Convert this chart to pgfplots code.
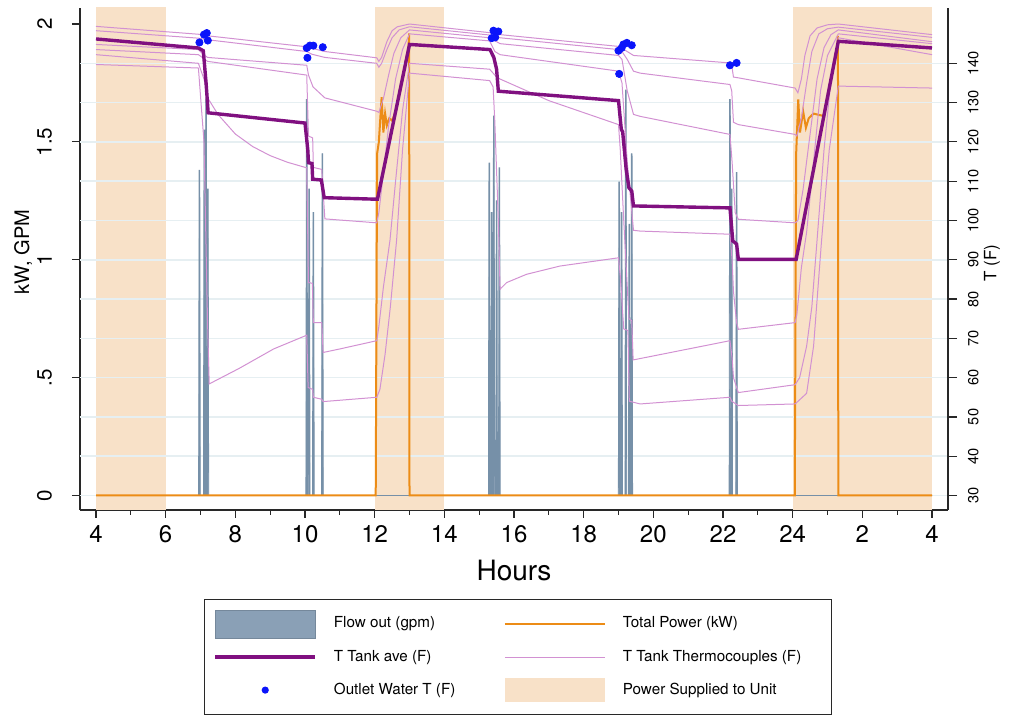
\documentclass[border=0pt]{standalone}
\usepackage{fontspec}
\setmainfont{TeX Gyre Heros}
\usepackage{pgfplots}
\pgfplotsset{compat=1.18}

\definecolor{peach}{RGB}{248,225,200}
\definecolor{flowc}{RGB}{118,144,168}
\definecolor{flowleg}{RGB}{138,160,182}
\definecolor{powc}{RGB}{236,140,22}
\definecolor{avec}{RGB}{128,16,128}
\definecolor{tcc}{RGB}{210,145,210}
\definecolor{dotc}{RGB}{10,20,250}
\definecolor{gridc}{RGB}{230,239,242}
\definecolor{axc}{RGB}{40,40,40}

\pgfplotsset{
  base/.style={width=434pt,height=251pt,scale only axis,
    xmin=3.5407,xmax=28.4593,at={(0,0)},anchor=south west},
  kw/.style={ymin=-0.0615,ymax=2.068},
  degf/.style={ymin=26.31,ymax=154.08},
  tc/.style={tcc,line width=0.5pt,forget plot},
}

\begin{document}
\begin{tikzpicture}
% left scale: shading, x axis, kW/GPM axis
\begin{axis}[base,kw,
  axis x line*=bottom, axis y line*=left,
  axis line style={axc,line width=0.6pt,-},
  tick style={axc,line width=0.6pt},
  tick align=outside, major tick length=4pt, minor tick length=2.5pt,
  xtick={4,6,...,28}, xticklabels={4,6,8,10,12,14,16,18,20,22,24,2,4},
  minor x tick num=1,
  ytick={0,0.5,1,1.5,2}, yticklabels={0,.5,1,1.5,2},
  /pgf/number format/assume math mode=true,
  x tick label style={font=\fontsize{12}{12}\selectfont},
  y tick label style={font=\fontsize{10.3}{10.3}\selectfont,rotate=90,anchor=south},
  yticklabel shift=6.5pt,
  xlabel={Hours}, ylabel={kW, GPM},
  every axis x label/.style={at={(axis description cs:0.5,-0.1215)},anchor=center,font=\fontsize{14}{14}\selectfont},
  every axis y label/.style={at={(axis description cs:-0.0655,0.514)},anchor=center,rotate=90,font=\fontsize{10}{10}\selectfont},
]
\addplot[fill=peach,draw=none,forget plot] coordinates {(4,-1)(4,3)(6,3)(6,-1)} -- cycle;
\addplot[fill=peach,draw=none,forget plot] coordinates {(12,-1)(12,3)(14,3)(14,-1)} -- cycle;
\addplot[fill=peach,draw=none,forget plot] coordinates {(24,-1)(24,3)(28,3)(28,-1)} -- cycle;
\end{axis}

% right scale: temperature axis and grid
\begin{axis}[base,degf,
  axis y line*=right, hide x axis,
  axis line style={axc,line width=0.6pt,-},
  tick style={axc,line width=0.6pt},
  tick align=outside, major tick length=4.5pt,
  ytick={30,40,...,140},
  ymajorgrids, grid style={gridc,line width=0.8pt},
  /pgf/number format/assume math mode=true,
  y tick label style={font=\fontsize{7.3}{7.3}\selectfont,rotate=90,anchor=north},
  yticklabel shift=2pt,
  ylabel={T (F)},
  every axis y label/.style={at={(axis description cs:1.0507,0.492)},anchor=center,rotate=90,font=\fontsize{8.5}{8.5}\selectfont},
]
\end{axis}

% flow and power (kW, GPM)
\begin{axis}[base,kw,hide axis]
\addplot[fill=flowc,draw=flowc,line width=0.4pt,forget plot] coordinates {
(4,0)
(6.945,0)(6.96,1.38)(6.98,1.38)(6.995,0)
(7.085,0)(7.10,1.55)(7.12,1.55)(7.135,0)
(7.135,0)(7.15,1.68)(7.17,1.68)(7.185,0)
(7.185,0)(7.20,1.30)(7.22,1.30)(7.235,0)
(10.025,0)(10.04,1.68)(10.06,1.68)(10.075,0)
(10.095,0)(10.11,1.30)(10.13,1.30)(10.145,0)
(10.215,0)(10.23,1.20)(10.25,1.20)(10.265,0)
(10.475,0)(10.49,1.45)(10.51,1.45)(10.525,0)
(15.265,0)(15.28,1.41)(15.30,1.41)(15.315,0)
(15.335,0)(15.35,1.20)(15.37,1.20)(15.385,0)
(15.395,0)(15.41,1.61)(15.43,1.61)(15.445,0)
(15.475,0)(15.49,1.25)(15.51,1.25)(15.525,0)
(15.555,0)(15.57,1.39)(15.59,1.39)(15.605,0)
(18.995,0)(19.01,1.33)(19.03,1.33)(19.045,0)
(19.065,0)(19.08,1.20)(19.10,1.20)(19.115,0)
(19.185,0)(19.20,1.72)(19.22,1.72)(19.235,0)
(19.285,0)(19.30,1.15)(19.32,1.15)(19.335,0)
(19.355,0)(19.37,1.45)(19.39,1.45)(19.405,0)
(22.175,0)(22.19,1.68)(22.21,1.68)(22.225,0)
(22.225,0)(22.24,1.30)(22.26,1.30)(22.275,0)
(22.365,0)(22.38,1.37)(22.40,1.37)(22.415,0)
(28,0)} \closedcycle;
\addplot[powc,line width=1pt,forget plot] coordinates {
(4,0)(12.03,0)(12.07,1.45)(12.12,1.5)(12.2,1.69)(12.25,1.54)(12.3,1.62)(12.35,1.57)
(12.42,1.6)(12.5,1.59)(12.6,1.628)(12.8,1.77)(12.97,1.9)(12.99,1.96)(13.0,0)
(24.06,0)(24.1,1.45)(24.16,1.68)(24.21,1.54)(24.3,1.63)(24.38,1.56)(24.46,1.6)
(24.6,1.62)(24.88,1.61)(25.1,1.765)(25.29,1.91)(25.3,1.95)(25.31,0)(28,0)};
\end{axis}

% temperatures (F) and legend
\begin{axis}[base,degf,hide axis,
  legend columns=2,
  legend cell align=left,
  legend style={at={(0.1429,-0.1773)},anchor=north west,
    draw=axc,line width=0.5pt,inner xsep=4.5pt,inner ysep=5pt,
    row sep=2.5pt,column sep=0pt,
    nodes={inner sep=0pt},
    font=\fontsize{7.6}{7.6}\selectfont},
]
% tank thermocouples
\addplot[tc] coordinates {(4,149.4)(6.94,147.4)(7.2,147.0)(10.05,144.2)(10.2,143.8)(10.57,143.0)(12.06,141.4)(12.12,140.5)(12.2,141.5)(12.35,145.5)(12.5,148.3)(12.65,149.3)(13.0,150)(15.3,147.8)(15.6,147.3)(19.0,144.3)(19.1,143.8)(19.25,143)(19.43,142)(22.2,140.1)(22.25,139.5)(22.3,136.5)(22.44,136.3)(24.07,133.7)(24.15,132.5)(24.25,136)(24.35,142)(24.5,147)(24.7,149)(25.0,149.8)(25.31,150)(28,147.3)};
\addplot[tc] coordinates {(4,148.3)(6.94,146.4)(7.2,146.0)(10.05,143.0)(10.2,142.3)(10.57,141.5)(12.06,140.0)(12.12,139)(12.2,140)(12.35,143.5)(12.5,146.5)(12.7,148.5)(13.0,149.3)(15.3,147.2)(15.6,146.5)(19.0,143.5)(19.1,143)(19.25,141)(19.43,138)(19.62,137.5)(22.2,134.6)(22.25,133)(22.3,125)(22.44,124.4)(24.07,121.9)(24.12,121.5)(24.25,126)(24.4,135)(24.55,143)(24.75,147.5)(25.0,148.8)(25.31,149.2)(28,146.6)};
\addplot[tc] coordinates {(4,144.8)(6.94,143.5)(7.05,142.5)(7.2,141.5)(10.05,139.5)(10.1,137)(10.23,134)(10.57,131.2)(12.06,127.8)(12.12,127.5)(12.25,131)(12.4,137)(12.55,142.5)(12.75,146.5)(13.0,148.5)(15.3,146.5)(15.6,145)(19.0,142)(19.1,141)(19.25,133)(19.43,127)(19.62,126.5)(22.2,121.9)(22.26,115)(22.35,102)(22.44,100.3)(24.07,99.4)(24.15,100)(24.3,108)(24.5,122)(24.7,136)(24.9,144)(25.1,147.3)(25.31,148.5)(28,145.5)};
\addplot[tc] coordinates {(4,143.5)(6.94,142.2)(7.05,141.5)(7.2,140.5)(10.05,137)(10.1,121.5)(10.22,121)(10.24,113.5)(10.48,113)(10.57,100.4)(12.06,99.4)(12.12,102)(12.25,112)(12.4,124)(12.6,136)(12.8,143.5)(13.0,147.5)(15.3,145.7)(15.45,143)(15.6,142.2)(19.0,138)(19.1,135)(19.25,115)(19.43,97.5)(19.62,97.3)(22.2,96.5)(22.26,90)(22.3,82)(22.39,74)(22.44,72.3)(24.07,74)(24.12,76)(24.25,88)(24.4,97)(24.6,115)(24.8,133)(25.0,142)(25.31,147.5)(28,145)};
\addplot[tc] coordinates {(4,142.2)(6.94,140.0)(7.1,136)(7.22,131)(7.5,127)(8,122)(8.5,118.8)(9,116.5)(9.5,114.8)(10.05,113.4)(10.1,84.2)(10.21,84)(10.24,74)(10.48,74)(10.52,66.4)(11,67.3)(12.06,69.4)(12.12,73)(12.25,83)(12.44,95)(12.6,110)(12.8,128)(13.0,140)(15.3,138.5)(15.45,137)(15.6,136)(17,130.5)(19.0,124.4)(19.05,118)(19.15,100)(19.3,75)(19.38,74.5)(19.42,64.5)(22.2,69.4)(22.26,65)(22.3,60)(22.44,56.2)(24.07,58.2)(24.2,60)(24.4,68)(24.55,78)(24.7,95)(24.9,118)(25.1,136)(25.31,146.5)(28,142.2)};
\addplot[tc] coordinates {(4,139.7)(6.94,138.8)(7.1,120)(7.2,75)(7.25,58.4)(8.1,62.3)(9.1,67.3)(10.05,70.8)(10.09,57.5)(10.22,57)(10.24,55)(10.48,54.5)(10.52,53.9)(12.06,55)(12.15,57)(12.3,66)(12.45,78)(12.63,95)(12.8,118)(13.0,137.5)(15.3,135.6)(15.4,134)(15.45,125)(15.55,100)(15.6,82.5)(15.79,84.2)(16.36,86.3)(17.32,88.4)(19.0,90.5)(19.05,86)(19.15,72.4)(19.27,72)(19.31,54)(19.62,53.3)(22.2,55)(22.25,54)(22.44,52.9)(24.07,53.3)(24.4,56)(24.6,68)(24.83,95)(25.05,118)(25.31,134.2)(28,133.7)};
% tank average
\addplot[avec,line width=1.7pt,forget plot] coordinates {(4,146.2)(6.94,143.9)(7.08,143.2)(7.16,135)(7.22,127.4)(10.0,124.8)(10.08,118)(10.1,114.7)(10.2,114.5)(10.22,110.5)(10.47,110.3)(10.55,105.8)(12.08,105.4)(13.0,144.8)(15.31,143.5)(15.42,141.5)(15.5,138.5)(15.55,132.9)(19.0,130.5)(19.08,123.2)(19.12,122.5)(19.22,113)(19.3,108.3)(19.38,107.5)(19.43,103.7)(22.2,103.2)(22.28,94.8)(22.39,94.0)(22.44,90.1)(24.1,90.1)(25.31,145.6)(28,143.9)};
% outlet water temperature
\addplot[only marks,mark=*,mark size=1.8pt,dotc,forget plot] coordinates {
(6.97,145.3)(7.10,147.3)(7.18,147.7)(7.21,145.8)
(10.05,143.9)(10.14,144.5)(10.24,144.5)(10.07,141.4)(10.51,144.1)
(15.41,148.3)(15.55,148.1)(15.36,146.4)(15.46,146.6)
(19.0,143.2)(19.14,144.8)(19.24,145.2)(19.38,144.6)(19.09,143.9)(19.02,137.3)
(22.2,139.5)(22.39,140.1)};

\addlegendimage{legend image code/.code={\path[draw=none,fill=none] (0pt,-7pt) rectangle (50pt,7pt);
  \path[fill=flowleg,draw=flowleg!85!black,line width=0.3pt] (0pt,-7pt) rectangle (50pt,7pt);}}
\addlegendentry{\hspace*{8.5pt}\makebox[85pt][l]{Flow out (gpm)}}
\addlegendimage{legend image code/.code={\path[draw=none,fill=none] (0pt,-7pt) rectangle (50pt,7pt);
  \path[draw=powc,line width=1pt] (0pt,0pt) -- (50pt,0pt);}}
\addlegendentry{\hspace*{8.5pt}\makebox[100pt][l]{Total Power (kW)}}
\addlegendimage{legend image code/.code={\path[draw=none,fill=none] (0pt,-7pt) rectangle (50pt,7pt);
  \path[draw=avec,line width=1.7pt] (0pt,0pt) -- (50pt,0pt);}}
\addlegendentry{\hspace*{8.5pt}\makebox[85pt][l]{T Tank ave (F)}}
\addlegendimage{legend image code/.code={\path[draw=none,fill=none] (0pt,-7pt) rectangle (50pt,7pt);
  \path[draw=tcc,line width=0.6pt] (0pt,0pt) -- (50pt,0pt);}}
\addlegendentry{\hspace*{8.5pt}\makebox[100pt][l]{T Tank Thermocouples (F)}}
\addlegendimage{legend image code/.code={\path[draw=none,fill=none] (0pt,-7pt) rectangle (50pt,7pt);
  \path[fill=dotc,draw=none] (25pt,0pt) circle (1.8pt);}}
\addlegendentry{\hspace*{8.5pt}\makebox[85pt][l]{Outlet Water T (F)}}
\addlegendimage{legend image code/.code={\path[draw=none,fill=none] (0pt,-7pt) rectangle (50pt,7pt);
  \path[fill=peach,draw=none] (0pt,-6pt) rectangle (50pt,6pt);}}
\addlegendentry{\hspace*{8.5pt}\makebox[100pt][l]{Power Supplied to Unit}}
\end{axis}
\pgfresetboundingbox
\path[use as bounding box] (-40pt,-102.5pt) rectangle (465pt,255pt);
\end{tikzpicture}
\end{document}
